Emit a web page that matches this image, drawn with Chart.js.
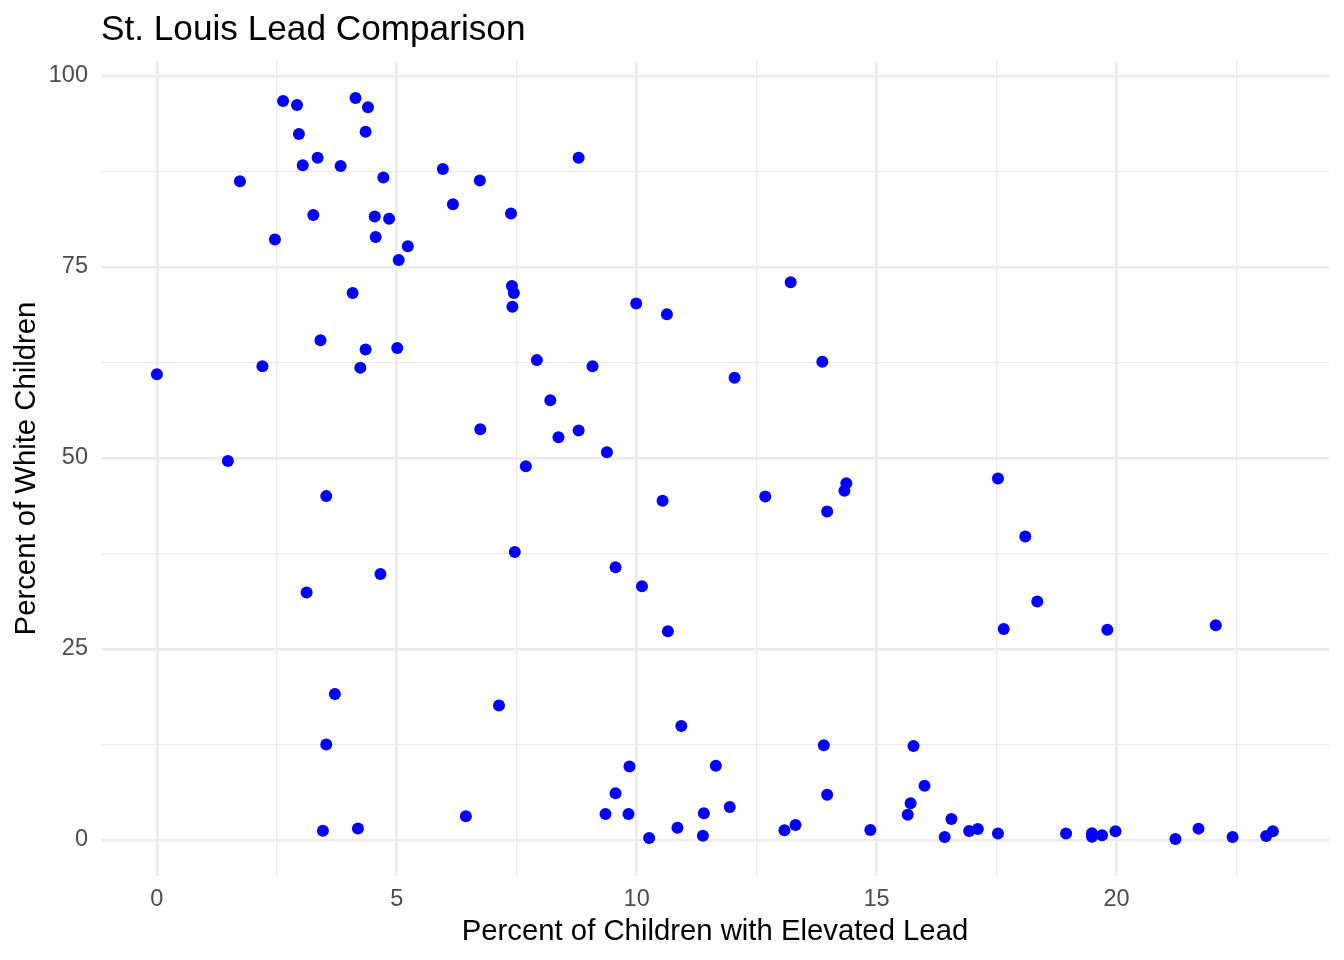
<!DOCTYPE html>
<html>
<head>
<meta charset="utf-8">
<title>St. Louis Lead Comparison</title>
<script src="https://cdn.jsdelivr.net/npm/chart.js@4.4.1/dist/chart.umd.min.js"></script>
<style>
  html, body { margin: 0; padding: 0; background: #ffffff; }
  #wrap { width: 1344px; height: 960px; }
</style>
</head>
<body>
<div id="wrap"><canvas id="scatter" width="1344" height="960"></canvas></div>
<script>
// percent of children with elevated lead (x) / percent of white children (y)
var leadPct = [
    0.00, 1.48, 1.73, 2.20, 2.46, 2.63, 2.92, 2.96, 3.04, 3.26,
    3.35, 3.41, 3.83, 3.12, 3.53, 3.71, 3.53, 3.46, 4.08, 4.14,
    4.40, 4.35, 4.24, 4.35, 4.19, 4.54, 4.56, 4.72, 4.84, 4.66,
    5.04, 5.01, 5.23, 5.96, 6.17, 6.44, 6.73, 6.74, 7.13, 7.38,
    7.40, 7.44, 7.41, 7.46, 7.69, 7.92, 8.20, 8.37, 8.79, 8.79,
    9.08, 9.35, 9.38, 9.56, 9.56, 9.83, 9.85, 9.99, 10.11, 10.26,
    10.54, 10.63, 10.65, 10.85, 10.93, 11.38, 11.40, 11.65, 11.94, 12.04,
    12.68, 13.08, 13.21, 13.31, 13.87, 13.90, 13.97, 13.97, 14.33, 14.37,
    14.87, 15.65, 15.71, 15.77, 16.00, 16.42, 16.56, 16.93, 17.11, 17.53,
    17.53, 17.65, 18.10, 18.35, 18.95, 19.49, 19.49, 19.70, 19.81, 19.98,
    21.23, 21.71, 22.07, 22.42, 23.12, 23.26
];
var whitePct = [
    60.95, 49.6, 86.2, 62.0, 78.6, 96.7, 96.2, 92.4, 88.3, 81.8,
    89.3, 65.4, 88.2, 32.4, 45.0, 19.1, 12.5, 1.2, 71.6, 97.1,
    95.9, 92.7, 61.8, 64.2, 1.5, 81.6, 78.9, 86.7, 81.3, 34.8,
    75.9, 64.4, 77.7, 87.8, 83.2, 3.1, 86.3, 53.75, 17.6, 82.0,
    72.5, 71.6, 69.8, 37.7, 48.9, 62.8, 57.55, 52.7, 53.6, 89.3,
    62.0, 3.4, 50.75, 35.7, 6.1, 3.4, 9.6, 70.2, 33.2, 0.26,
    44.4, 68.8, 27.3, 1.6, 14.9, 0.56, 3.5, 9.7, 4.3, 60.5,
    44.95, 1.27, 73.0, 1.96, 62.6, 12.4, 5.9, 43.0, 45.7, 46.7,
    1.3, 3.3, 4.8, 12.3, 7.1, 0.39, 2.75, 1.18, 1.44, 47.3,
    0.83, 27.6, 39.7, 31.2, 0.83, 0.87, 0.43, 0.61, 27.5, 1.14,
    0.13, 1.48, 28.1, 0.39, 0.52, 1.14
];

var xTicks = [0, 5, 10, 15, 20];
var yTicks = [0, 25, 50, 75, 100];

var titleText = "St. Louis Lead Comparison";
var xTitle = "Percent of Children with Elevated Lead";
var yTitle = "Percent of White Children";

var points = leadPct.map(function (x, i) {
    return { x: x, y: whitePct[i] };
});

// major breaks plus the minor ones half way between them
function withMinor(major, min, max) {
    var step = major[1] - major[0];
    var out = [];
    for (var v = major[0] - step / 2; v <= major[major.length - 1] + step / 2; v += step / 2) {
        if (v >= min && v <= max) out.push({ value: v });
    }
    return out;
}

var gridColor = "#ebebeb";
var tickFont = { family: "Liberation Sans", size: 23.5, lineHeight: 1 };
var axisFont = { family: "Liberation Sans", size: 29.3, lineHeight: 1 };

var plotTitle = {
    id: "plotTitle",
    afterDraw: function (chart) {
        var c = chart.ctx;
        c.save();
        c.font = '35.2px "Liberation Sans"';
        c.fillStyle = "#000000";
        c.textAlign = "left";
        c.textBaseline = "alphabetic";
        c.fillText(titleText, 101, 40);
        c.restore();
    },
};

var ctx = document.getElementById("scatter").getContext("2d");
var myChart = new Chart(ctx, {
    type: "scatter",
    data: {
        datasets: [
            {
                label: "tracts",
                data: points,
                backgroundColor: "#0000ff",
                borderWidth: 0,
                pointRadius: 6,
                pointHoverRadius: 6,
            },
        ],
    },
    options: {
        responsive: false,
        animation: false,
        devicePixelRatio: 1,
        layout: { padding: { top: 61, right: 15, bottom: 0, left: 0 } },
        plugins: {
            legend: { display: false },
            tooltip: { enabled: false },
        },
        scales: {
            x: {
                type: "linear",
                min: -1.165,
                max: 24.43,
                afterBuildTicks: function (scale) {
                    scale.ticks = withMinor(xTicks, scale.min, scale.max);
                },
                afterFit: function (scale) {
                    scale.height = 84;
                },
                border: { display: false },
                grid: {
                    color: gridColor,
                    drawTicks: false,
                    lineWidth: function (c) {
                        return xTicks.indexOf(c.tick.value) >= 0 ? 2.6 : 1.3;
                    },
                },
                ticks: {
                    autoSkip: false,
                    maxRotation: 0,
                    padding: 12,
                    color: "#4d4d4d",
                    font: tickFont,
                    callback: function (v) {
                        return xTicks.indexOf(v) >= 0 ? String(v) : "";
                    },
                },
                title: {
                    display: true,
                    text: xTitle,
                    color: "#000000",
                    font: axisFont,
                    padding: { top: 0, bottom: 13 },
                },
            },
            y: {
                type: "linear",
                min: -4.72,
                max: 101.95,
                afterBuildTicks: function (scale) {
                    scale.ticks = withMinor(yTicks, scale.min, scale.max);
                },
                afterFit: function (scale) {
                    scale.width = 101;
                },
                border: { display: false },
                grid: {
                    color: gridColor,
                    drawTicks: false,
                    lineWidth: function (c) {
                        return yTicks.indexOf(c.tick.value) >= 0 ? 2.6 : 1.3;
                    },
                },
                ticks: {
                    autoSkip: false,
                    padding: 13,
                    color: "#4d4d4d",
                    font: tickFont,
                    callback: function (v) {
                        return yTicks.indexOf(v) >= 0 ? String(v) : "";
                    },
                },
                title: {
                    display: true,
                    text: yTitle,
                    color: "#000000",
                    font: axisFont,
                    padding: { top: 12, bottom: 0 },
                },
            },
        },
    },
    plugins: [plotTitle],
});
</script>
</body>
</html>
